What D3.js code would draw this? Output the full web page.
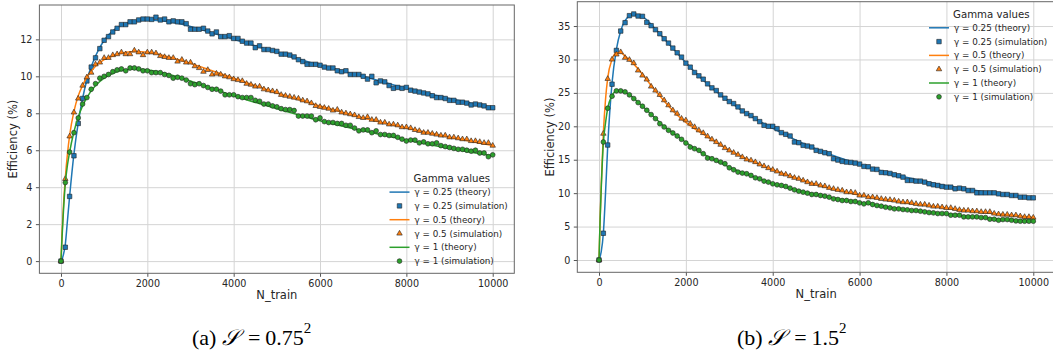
<!DOCTYPE html>
<html>
<head>
<meta charset="utf-8">
<script src="https://cdn.jsdelivr.net/npm/d3@7"></script>
<style>
    body { margin: 0; background: #fff; }
    svg text { font-family: "DejaVu Sans", sans-serif; fill: #262626; }
    .caption { font-family: "Liberation Serif", serif; font-size: 22px; fill: #000; }
</style>
</head>
<body>
<div id="figure"></div>
<script>
// N_train grid of the simulation markers (every 100)
const nTrain = d3.range(0, 10001, 100);

const gammaValues = ['0.25', '0.5', '1'];
const seriesColors = ['#1f77b4', '#ff7f0e', '#2ca02c'];
const markerShapes = [d3.symbolSquare, d3.symbolTriangle, d3.symbolCircle];
const markerSizes = [20, 13, 18];

const ticksX = [0, 2000, 4000, 6000, 8000, 10000];
const ticksYA = [0, 2, 4, 6, 8, 10, 12];
const ticksYB = [0, 5, 10, 15, 20, 25, 30, 35];

// ---- panel (a): S = 0.75^2 ----
const simA025 = [
    0, 0.75, 3.5, 5.7, 7.45, 8.8, 9.75, 10.5, 11.0, 11.5,
    11.95, 12.15, 12.4, 12.6, 12.8, 12.8, 12.95, 12.95, 13.05, 13.1,
    13.1, 13.08, 13.2, 13.05, 13.1, 12.95, 13.0, 12.95, 12.95, 12.85,
    12.55, 12.55, 12.55, 12.6, 12.45, 12.3, 12.4, 12.15, 12.15, 12.2,
    12.05, 12.05, 11.9, 11.8, 11.8, 11.55, 11.65, 11.45, 11.45, 11.4,
    11.35, 11.2, 11.2, 11.15, 11.05, 10.9, 10.8, 10.65, 10.65, 10.65,
    10.6, 10.5, 10.45, 10.45, 10.3, 10.25, 10.3, 10.1, 10.1, 10.1,
    10.0, 9.85, 10.0, 9.65, 9.75, 9.7, 9.5, 9.35, 9.4, 9.35,
    9.4, 9.25, 9.2, 9.15, 9.1, 9.05, 8.95, 8.85, 8.85, 8.8,
    8.7, 8.7, 8.6, 8.6, 8.55, 8.45, 8.5, 8.45, 8.4, 8.3,
    8.3
];
const simA05 = [
    0, 4.45, 6.75, 8.05, 8.8, 9.5, 9.95, 10.2, 10.65, 10.75,
    11.0, 11.0, 11.15, 11.2, 11.3, 11.2, 11.2, 11.4, 11.3, 11.15,
    11.3, 11.3, 11.25, 11.1, 11.05, 11.0, 11.0, 10.8, 10.9, 10.75,
    10.75, 10.55, 10.45, 10.25, 10.35, 10.1, 10.15, 10.1, 10.0, 9.95,
    9.85, 9.8, 9.75, 9.6, 9.55, 9.45, 9.45, 9.3, 9.25, 9.2,
    9.15, 9.0, 8.95, 8.9, 8.85, 8.8, 8.7, 8.65, 8.55, 8.4,
    8.35, 8.3, 8.25, 8.15, 8.2, 8.05, 8.0, 7.95, 7.9, 7.8,
    7.75, 7.8, 7.65, 7.65, 7.5, 7.5, 7.4, 7.4, 7.35, 7.25,
    7.25, 7.2, 7.1, 7.05, 6.95, 6.95, 6.9, 6.85, 6.8, 6.8,
    6.7, 6.7, 6.65, 6.6, 6.6, 6.5, 6.5, 6.45, 6.4, 6.4,
    6.25
];
const simA1 = [
    0, 4.25, 5.9, 6.95, 7.75, 8.5, 8.85, 9.3, 9.6, 9.9,
    10.0, 10.1, 10.25, 10.35, 10.4, 10.3, 10.45, 10.45, 10.4, 10.3,
    10.3, 10.2, 10.2, 10.2, 10.1, 10.05, 9.9, 9.95, 9.9, 9.8,
    9.6, 9.55, 9.6, 9.5, 9.4, 9.3, 9.3, 9.2, 9.0, 9.0,
    9.0, 8.9, 8.85, 8.85, 8.85, 8.7, 8.65, 8.5, 8.5, 8.4,
    8.35, 8.25, 8.2, 8.2, 8.15, 7.85, 7.85, 7.85, 7.85, 7.65,
    7.75, 7.55, 7.5, 7.5, 7.45, 7.45, 7.35, 7.35, 7.2, 7.05,
    7.1, 7.1, 6.95, 7.05, 6.85, 6.85, 6.8, 6.8, 6.7, 6.6,
    6.5, 6.55, 6.55, 6.4, 6.45, 6.35, 6.35, 6.4, 6.25, 6.2,
    6.15, 6.1, 6.05, 6.05, 6.0, 5.95, 6.0, 5.85, 5.85, 5.65,
    5.75
];
const theoryXA = [0, 25, 50, 100, 150, 200, 300, 400, 500, 600, 800, 1000, 1250, 1500, 1750, 2000,
    2500, 3000, 3500, 4000, 5000, 6000, 7000, 8000, 9000, 10000];
const theoryA025 = [0, 0.1, 0.3, 0.9, 2.2, 3.5, 5.8, 7.5, 8.8, 9.8, 11.1, 11.95, 12.55, 12.85, 13.0, 13.05,
    12.95, 12.7, 12.35, 12.0, 11.3, 10.6, 10.0, 9.35, 8.8, 8.3];
const theoryA05 = [0, 1.5, 2.7, 4.5, 5.8, 6.8, 8.1, 8.95, 9.5, 9.95, 10.55, 10.9, 11.15, 11.3, 11.35, 11.3,
    11.05, 10.7, 10.3, 9.9, 9.1, 8.4, 7.75, 7.2, 6.7, 6.25];
const theoryA1 = [0, 1.3, 2.4, 4.2, 5.2, 5.9, 7.0, 7.8, 8.4, 8.85, 9.5, 9.9, 10.2, 10.35, 10.4, 10.35,
    10.1, 9.75, 9.35, 8.95, 8.25, 7.6, 7.05, 6.55, 6.1, 5.7];

// ---- panel (b): S = 1.5^2 ----
const simB025 = [
    0, 4.0, 17.2, 26.3, 31.35, 34.25, 35.5, 36.55, 36.8, 36.5,
    36.45, 35.55, 35.05, 34.45, 33.85, 33.1, 32.45, 31.7, 31.0, 30.35,
    29.45, 28.85, 28.05, 27.55, 27.05, 26.35, 25.75, 25.35, 24.7, 24.2,
    23.7, 23.4, 22.9, 22.3, 21.9, 21.6, 21.15, 20.7, 20.15, 20.0,
    20.0, 19.65, 19.05, 18.8, 18.55, 17.65, 17.55, 17.15, 17.05, 16.9,
    16.4, 16.25, 16.05, 15.9, 15.15, 14.95, 14.75, 14.65, 14.6, 14.5,
    14.35, 14.0, 13.95, 13.6, 13.55, 13.1, 13.05, 12.95, 12.75, 12.6,
    12.4, 11.9, 11.9, 11.8, 11.8, 11.65, 11.4, 11.25, 11.15, 11.0,
    10.9, 10.9, 10.65, 10.75, 10.65, 10.4, 10.4, 10.05, 10.05, 10.05,
    10.05, 10.05, 9.9, 9.8, 9.8, 9.65, 9.65, 9.4, 9.4, 9.3,
    9.3
];
const simB05 = [
    0, 18.9, 27.1, 30.0, 30.75, 31.1, 30.25, 29.95, 29.45, 28.35,
    27.6, 27.0, 25.95, 25.35, 24.7, 23.9, 23.15, 22.4, 21.9, 21.15,
    20.9, 20.4, 19.9, 19.4, 19.0, 18.5, 18.05, 17.65, 17.25, 16.75,
    16.4, 16.05, 15.75, 15.4, 15.05, 14.9, 14.65, 14.3, 14.05, 13.75,
    13.5, 13.25, 12.9, 12.8, 12.55, 12.3, 12.15, 11.9, 11.65, 11.4,
    11.4, 11.15, 11.05, 10.8, 10.65, 10.5, 10.4, 10.15, 10.15, 10.05,
    9.65, 9.65, 9.4, 9.4, 9.3, 9.15, 9.05, 9.0, 8.9, 8.75,
    8.65, 8.65, 8.55, 8.4, 8.3, 8.3, 8.15, 8.0, 8.0, 7.9,
    7.8, 7.8, 7.65, 7.5, 7.4, 7.4, 7.3, 7.3, 7.2, 7.2,
    7.2, 6.95, 6.85, 6.8, 6.8, 6.7, 6.7, 6.55, 6.45, 6.45,
    6.35
];
const simB1 = [
    0, 17.65, 22.7, 24.5, 25.3, 25.3, 25.15, 24.7, 24.15, 23.55,
    23.0, 22.4, 21.75, 21.15, 20.4, 19.9, 19.4, 19.0, 18.55, 18.05,
    17.5, 16.9, 16.65, 16.4, 15.9, 15.25, 15.15, 14.9, 14.65, 14.4,
    13.8, 13.5, 13.15, 13.0, 12.9, 12.65, 12.3, 12.15, 11.8, 11.65,
    11.4, 11.25, 11.15, 11.0, 10.75, 10.5, 10.3, 10.15, 10.0, 9.8,
    9.8, 9.65, 9.55, 9.4, 9.15, 9.05, 8.9, 8.9, 8.75, 8.75,
    8.55, 8.4, 8.55, 8.3, 8.15, 8.05, 7.9, 7.8, 7.65, 7.65,
    7.55, 7.5, 7.4, 7.4, 7.3, 7.2, 7.1, 7.05, 6.95, 6.95,
    6.95, 6.7, 6.7, 6.7, 6.45, 6.45, 6.45, 6.45, 6.35, 6.35,
    6.1, 6.1, 5.95, 6.05, 6.05, 5.95, 5.85, 5.8, 5.8, 5.8,
    5.8
];
const theoryXB = [0, 25, 50, 100, 150, 200, 300, 400, 500, 600, 700, 800, 1000, 1250, 1500, 1750, 2000,
    2500, 3000, 3500, 4000, 5000, 6000, 7000, 8000, 9000, 10000];
const theoryB025 = [0, 0.5, 1.2, 4.0, 10.0, 17.0, 26.5, 31.5, 34.3, 35.8, 36.5, 36.7, 36.4, 34.9, 33.1, 31.3, 29.5,
    26.3, 23.7, 21.5, 19.7, 16.6, 14.3, 12.5, 11.1, 10.1, 9.3];
const theoryB05 = [0, 6.0, 11.0, 19.0, 24.0, 27.2, 30.0, 31.0, 31.0, 30.5, 29.9, 29.3, 27.8, 25.7, 23.8, 22.0, 20.6,
    18.4, 16.4, 14.85, 13.5, 11.3, 9.7, 8.6, 7.75, 7.0, 6.35];
const theoryB1 = [0, 6.0, 10.5, 17.5, 20.5, 22.7, 24.6, 25.3, 25.3, 25.1, 24.75, 24.2, 23.0, 21.5, 20.0, 18.8, 17.6,
    15.5, 13.9, 12.6, 11.45, 9.75, 8.6, 7.6, 6.9, 6.25, 5.75];


class EfficiencyChart
{
    svg; chart; left; top; width; height;
    scaleX; scaleY;

    constructor(svg, left, top, width, height) {
        this.svg = svg;
        this.left = left;
        this.top = top;
        this.width = width;
        this.height = height;
        this.chart = svg.append('g')
            .attr('transform', `translate(${left}, ${top})`);
    }

    // matplotlib style: 5% margin around the data
    #updateScales(sims, theories) {
        let all = [...sims.flat(), ...theories.flat()];
        let minY = d3.min(all), maxY = d3.max(all);
        let padY = (maxY - minY) * 0.05;
        let padX = (d3.max(nTrain) - d3.min(nTrain)) * 0.05;
        this.scaleX = d3.scaleLinear([d3.min(nTrain) - padX, d3.max(nTrain) + padX], [0, this.width]);
        this.scaleY = d3.scaleLinear([minY - padY, maxY + padY], [this.height, 0]);
    }

    #updateAxes(ticksX, ticksY) {
        // grid
        this.chart.append('g')
            .attr('transform', `translate(0, ${this.height})`)
            .call(d3.axisBottom(this.scaleX).tickValues(ticksX).tickSize(-this.height).tickFormat(''))
            .call(g => g.select('.domain').remove())
            .call(g => g.selectAll('line').attr('stroke', '#d4d4d4').attr('stroke-width', 1));
        this.chart.append('g')
            .call(d3.axisLeft(this.scaleY).tickValues(ticksY).tickSize(-this.width).tickFormat(''))
            .call(g => g.select('.domain').remove())
            .call(g => g.selectAll('line').attr('stroke', '#d4d4d4').attr('stroke-width', 1));

        // ticks + labels
        this.chart.append('g')
            .attr('transform', `translate(0, ${this.height})`)
            .call(d3.axisBottom(this.scaleX).tickValues(ticksX).tickSize(3.5).tickPadding(3.5).tickFormat(d3.format('d')))
            .call(g => g.select('.domain').remove())
            .call(g => g.selectAll('line').attr('stroke', '#555'))
            .call(g => g.selectAll('text').attr('font-size', 9.6).attr('font-family', 'DejaVu Sans').attr('fill', '#262626'));
        this.chart.append('g')
            .call(d3.axisLeft(this.scaleY).tickValues(ticksY).tickSize(3.5).tickPadding(3.5).tickFormat(d3.format('d')))
            .call(g => g.select('.domain').remove())
            .call(g => g.selectAll('line').attr('stroke', '#555'))
            .call(g => g.selectAll('text').attr('font-size', 9.6).attr('font-family', 'DejaVu Sans').attr('fill', '#262626'));

        // axis labels
        this.chart.append('text')
            .attr('x', this.width / 2)
            .attr('y', this.height + 22)
            .attr('dy', '0.35em')
            .attr('text-anchor', 'middle')
            .attr('font-size', 11.5)
            .text('N_train');
    }

    #drawSeries(sims, theoryX, theories) {
        let line = d3.line()
            .x((d, i) => this.scaleX(theoryX[i]))
            .y(d => this.scaleY(d))
            .curve(d3.curveMonotoneX);

        // plotting order: theory, simulation for each gamma
        sims.forEach((sim, k) => {
            this.chart.append('path')
                .datum(theories[k])
                .attr('d', line)
                .attr('fill', 'none')
                .attr('stroke', seriesColors[k])
                .attr('stroke-width', 1.5);

            this.chart.append('g')
                .selectAll('path')
                .data(sim)
                .join('path')
                .attr('transform', (d, i) => `translate(${this.scaleX(nTrain[i])}, ${this.scaleY(d)})`)
                .attr('d', d3.symbol(markerShapes[k], markerSizes[k]))
                .attr('fill', seriesColors[k])
                .attr('stroke', '#222')
                .attr('stroke-width', 0.6);
        });

        // frame on top
        this.chart.append('rect')
            .attr('width', this.width)
            .attr('height', this.height)
            .attr('fill', 'none')
            .attr('stroke', '#666')
            .attr('stroke-width', 1);
    }

    #drawLegend(lx, ly) {
        let g = this.svg.append('g').attr('transform', `translate(${lx}, ${ly})`);
        g.append('text')
            .attr('x', 24)
            .attr('y', 0)
            .attr('dy', '0.35em')
            .attr('font-size', 10.2)
            .text('Gamma values');
        let rows = gammaValues.flatMap((gv, k) => [
            { k: k, kind: 'theory', label: `γ = ${gv} (theory)` },
            { k: k, kind: 'sim', label: `γ = ${gv} (simulation)` }
        ]);
        let row = g.selectAll('g.row')
            .data(rows)
            .join('g')
            .attr('class', 'row')
            .attr('transform', (d, i) => `translate(0, ${13.8 * (i + 1)})`);
        row.filter(d => d.kind === 'theory')
            .append('line')
            .attr('x1', 0).attr('x2', 20)
            .attr('stroke', d => seriesColors[d.k])
            .attr('stroke-width', 1.5);
        row.filter(d => d.kind === 'sim')
            .append('path')
            .attr('transform', 'translate(10, 0)')
            .attr('d', d => d3.symbol(markerShapes[d.k], markerSizes[d.k])())
            .attr('fill', d => seriesColors[d.k])
            .attr('stroke', '#222')
            .attr('stroke-width', 0.6);
        row.append('text')
            .attr('x', 25)
            .attr('dy', '0.35em')
            .attr('font-size', 8.8)
            .text(d => d.label);
    }

    render(sims, theoryX, theories, ticksY, legendPos, yLabelX) {
        this.#updateScales(sims, theories);
        this.#updateAxes(ticksX, ticksY);
        this.#drawSeries(sims, theoryX, theories);
        this.#drawLegend(legendPos[0], legendPos[1]);
        this.svg.append('text')
            .attr('transform', `translate(${yLabelX}, ${this.top + this.height / 2}) rotate(-90)`)
            .attr('dy', '0.35em')
            .attr('text-anchor', 'middle')
            .attr('font-size', 11.5)
            .text('Efficiency (%)');
        return this;
    }
}

const svg = d3.select('#figure')
    .append('svg')
    .attr('width', 1053)
    .attr('height', 354);

new EfficiencyChart(svg, 39.4, 5, 474.9, 268.3)
    .render([simA025, simA05, simA1], theoryXA, [theoryA025, theoryA05, theoryA1], ticksYA, [389.5, 178.3], 13);

new EfficiencyChart(svg, 577.3, 1.7, 477.7, 270.6)
    .render([simB025, simB05, simB1], theoryXB, [theoryB025, theoryB05, theoryB1], ticksYB, [929, 14], 550);

// sub-figure captions
const captions = [
    { x: 192, label: '(a)', value: '0.75' },
    { x: 737, label: '(b)', value: '1.5' }
];
captions.forEach(c => {
    let t = svg.append('text')
        .attr('class', 'caption')
        .attr('x', c.x)
        .attr('y', 345);
    t.append('tspan').text(c.label + ' ');
    t.append('tspan').attr('font-style', 'italic').text('𝒮');
    t.append('tspan').attr('dx', 9).text('=');
    t.append('tspan').attr('dx', 5).text(c.value);
    t.append('tspan').attr('font-size', 15).attr('dy', -12).text('2');
});
</script>
</body>
</html>
